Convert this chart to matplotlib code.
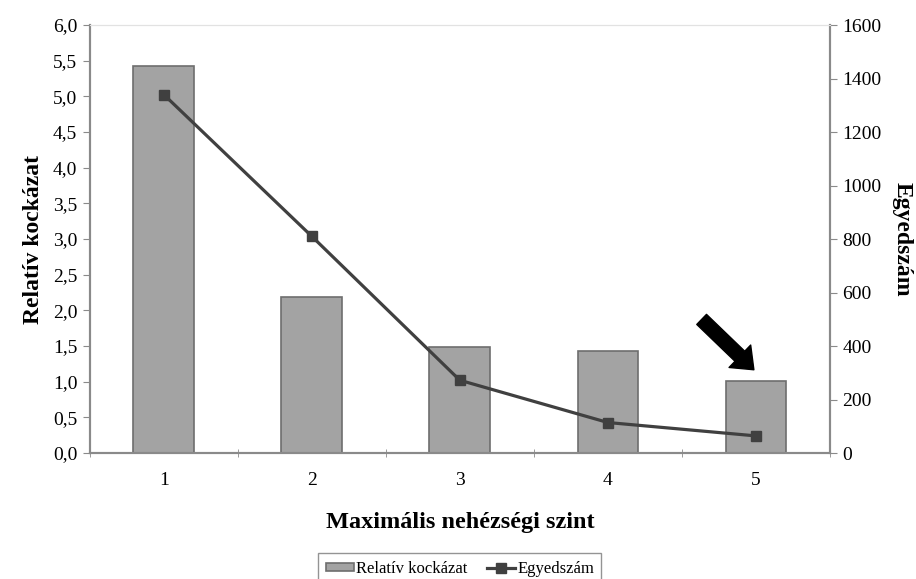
import matplotlib
matplotlib.use("Agg")
import matplotlib.pyplot as plt
import numpy as np

plt.rcParams["font.family"] = ["Liberation Serif", "DejaVu Serif"]

# Data
levels = ["1", "2", "3", "4", "5"]
rel_risk = [5.43, 2.19, 1.48, 1.43, 1.01]
count = [1340, 810, 272, 114, 64]

BAR = "#a3a3a3"
BAR_EDGE = "#6e6e6e"
LINE = "#404040"
AXIS = "#8a8a8a"

fig = plt.figure(figsize=(9.16, 5.79), dpi=100)
ax = fig.add_axes([0.098, 0.2176, 0.808, 0.7392])
ax2 = ax.twinx()

x = np.arange(1, len(levels) + 1)
ax.bar(x, rel_risk, width=0.41, color=BAR, edgecolor=BAR_EDGE, linewidth=1.2,
       label="Relatív kockázat", zorder=2)
ax2.plot(x, count, color=LINE, lw=2.3, marker="s", ms=7, mec=LINE, mfc=LINE,
         label="Egyedszám", zorder=3)

ax.set_xlim(0.5, 5.5)
ax.set_ylim(0, 6)
ax2.set_ylim(0, 1600)
ax.set_yticks(np.arange(0, 6.01, 0.5))
ax.set_yticklabels([f"{v:.1f}".replace(".", ",") for v in np.arange(0, 6.01, 0.5)])
ax2.set_yticks(np.arange(0, 1601, 200))

ax.set_xticks(x)
ax.set_xticklabels(levels)
ax.set_xticks(np.arange(0.5, 5.6, 1), minor=True)
ax.tick_params(axis="x", which="major", length=0, pad=14, labelsize=14)
ax.tick_params(axis="x", which="minor", length=6, direction="inout", color=AXIS)
ax.tick_params(axis="y", length=5, color=AXIS, labelsize=14, pad=4)
ax2.tick_params(axis="y", length=5, color=AXIS, labelsize=14, pad=4)

for a in (ax, ax2):
    for side in ("left", "right", "bottom"):
        a.spines[side].set_color(AXIS)
        a.spines[side].set_linewidth(1.5)
    a.spines["top"].set_color("#e2e2e2")
    a.spines["top"].set_linewidth(0.8)

ax.set_xlabel("Maximális nehézségi szint", fontsize=17.5, fontweight="bold", labelpad=16)
ax.set_ylabel("Relatív kockázat", fontsize=17, fontweight="bold", labelpad=6)
ax2.set_ylabel("Egyedszám", fontsize=17, fontweight="bold", rotation=-90, labelpad=22)

# pointer above the last level
ax.annotate("", xy=(5, rel_risk[4] + 0.13), xytext=(4.62, 1.9),
            arrowprops=dict(arrowstyle="simple,head_length=1.0,head_width=1.6,tail_width=0.72",
                            mutation_scale=14, fc="black", ec="black"), zorder=5)

h1, l1 = ax.get_legend_handles_labels()
h2, l2 = ax2.get_legend_handles_labels()
leg = fig.legend(h1 + h2, l1 + l2, loc="center", bbox_to_anchor=(0.502, 0.018), ncol=2,
                 fontsize=12, frameon=True, fancybox=False, edgecolor="#7a7a7a",
                 handlelength=1.7, handleheight=0.35, handletextpad=0.1,
                 columnspacing=1.2, borderpad=0.45)
leg.get_frame().set_linewidth(1.0)

fig.savefig("out.png", dpi=100)
